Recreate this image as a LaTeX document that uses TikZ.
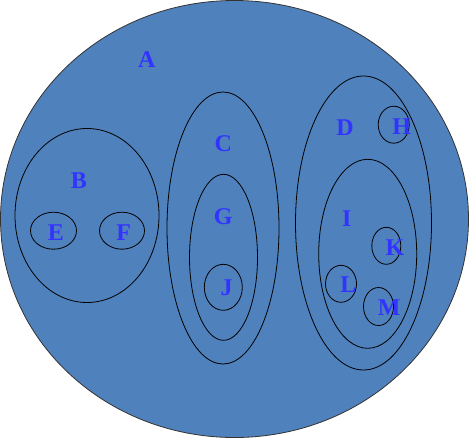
\documentclass[tikz,border=0pt]{standalone}
\usepackage{fontspec}
\setmainfont{Liberation Serif}
\usetikzlibrary{shapes.geometric}
\definecolor{setfill}{RGB}{79,129,189}
\definecolor{lbl}{RGB}{51,51,255}
\tikzset{
  setell/.style={ellipse, draw=black, line width=0.8pt, inner sep=0pt},
  lab/.style={inner sep=0pt, text=lbl, font=\fontsize{24}{24}\selectfont\bfseries}
}
\begin{document}
\begin{tikzpicture}[x=1pt,y=-1pt]
\useasboundingbox (0,0) rectangle (470,439);
\node[setell, fill=setfill, draw=black!80, minimum width=468pt, minimum height=437pt] (A) at (234.5,219) {};
\node[setell, minimum width=144pt, minimum height=174pt] (B) at (87,215.5) {};
\node[setell, minimum width=46pt, minimum height=37pt] (E) at (53.5,230.7) {};
\node[setell, minimum width=45pt, minimum height=37pt] (F) at (122,230.7) {};
\node[setell, minimum width=112pt, minimum height=272pt] (C) at (223,228) {};
\node[setell, minimum width=68pt, minimum height=166pt] (G) at (223.5,257.3) {};
\node[setell, minimum width=38pt, minimum height=46pt] (J) at (223.3,287.3) {};
\node[setell, minimum width=136pt, minimum height=294pt] (D) at (363.5,223) {};
\node[setell, minimum width=98pt, minimum height=189pt] (I) at (367.7,253.8) {};
\node[setell, minimum width=31pt, minimum height=37pt] (H) at (393.7,124.7) {};
\node[setell, minimum width=29pt, minimum height=37pt] (K) at (386.3,245.8) {};
\node[setell, minimum width=31pt, minimum height=37pt] (L) at (341,283.8) {};
\node[setell, minimum width=30pt, minimum height=38pt] (M) at (378.5,306.5) {};
\node[lab] (lA) at (146.7,60) {A};
\node[lab] (lB) at (79,180.5) {B};
\node[lab] (lE) at (55.8,232.5) {E};
\node[lab] (lF) at (123.7,232.5) {F};
\node[lab] (lC) at (223.3,143.5) {C};
\node[lab] (lG) at (223.3,217) {G};
\node[lab] (lJ) at (226.7,288) {J};
\node[lab] (lD) at (345,127.5) {D};
\node[lab] (lH) at (401.7,127) {H};
\node[lab] (lI) at (346.7,218.5) {I};
\node[lab] (lK) at (395,247.5) {K};
\node[lab] (lL) at (348.3,285) {L};
\node[lab] (lM) at (389.3,307.5) {M};
\end{tikzpicture}
\end{document}
